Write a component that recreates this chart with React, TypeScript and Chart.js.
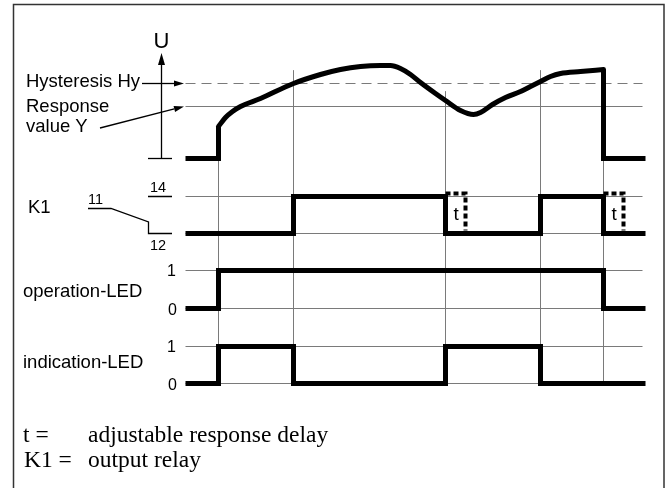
import React, { useEffect, useRef } from "react";
import { Chart, registerables } from "chart.js";

Chart.register(...registerables);

// ---------- DATA (time in arbitrary units, t = 0 at start of diagram) ----------
const T_END = 460;
const LEVEL_LINE_END = 457;
// switching instants: power on, K1 on, K1 off, K1 on, power off
const eventTimes = [33, 108, 260, 355, 418];
// top of each vertical event line, in U units
const eventLineTopU = [32, 88, 67, 88, 89];
// response delay t
const delayTimes = [260, 418];
const delayLength = 20;

// measured voltage U (relative units above 0)
const uStepTimes = [0, 33, 33];
const uStepValues = [0, 0, 32];
const curveTimes = [33, 40, 47, 55, 75, 108, 135, 155, 175, 195, 205, 215, 225, 235, 250, 260, 275, 288, 295, 307, 320, 335, 345, 355, 365, 375, 395, 418];
const curveU = [32, 41, 47, 52, 60, 75, 84, 89, 92, 93, 93, 90, 84, 76, 65, 58, 48, 44, 46, 54, 61, 67, 72, 77, 82, 85, 87, 89];
const uDropTimes = [418, 418, T_END];
const uDropValues = [89, 0, 0];
const responseValueY = 52;
const hysteresisHy = 75;

// digital signals: level held from each time until the next
const k1Times = [0, 108, 260, 355, 418, T_END];
const k1Levels = [0, 1, 0, 1, 0, 0];
const opTimes = [0, 33, 418, T_END];
const opLevels = [0, 1, 0, 0];
const indTimes = [0, 33, 108, 260, 355, T_END];
const indLevels = [0, 1, 0, 1, 0, 0];

// ---------- LAYOUT ----------
const W = 671;
const H = 488;
const X0 = 185; // canvas x of t = 0
const ROWS = {
  U: { base: 158, amp: 1 },
  K1: { base: 233, amp: 37 },
  OP: { base: 308, amp: 38 },
  IND: { base: 383, amp: 37 },
};
type RowKey = keyof typeof ROWS;
const ry = (row: RowKey, v: number) => ROWS[row].base - v * ROWS[row].amp;

const THIN = "#7a7a7a";
const SANS = '"Liberation Sans", Arial, sans-serif';
const SERIF = '"Liberation Serif", "Times New Roman", serif';

function steps(times: number[], levels: number[], row: RowKey) {
  const pts: { x: number; y: number }[] = [{ x: times[0], y: ry(row, levels[0]) }];
  for (let i = 1; i < times.length; i++) {
    pts.push({ x: times[i], y: ry(row, levels[i - 1]) });
    if (levels[i] !== levels[i - 1]) pts.push({ x: times[i], y: ry(row, levels[i]) });
  }
  return pts;
}
const series = (ts: number[], vs: number[], row: RowKey) => ts.map((t, i) => ({ x: t, y: ry(row, vs[i]) }));

function thick(data: any[], extra: any = {}) {
  return {
    data,
    borderColor: "#000",
    borderWidth: 5,
    borderJoinStyle: "miter",
    borderCapStyle: "butt",
    pointRadius: 0,
    tension: 0,
    order: 0,
    ...extra,
  };
}
function thin(data: any[], extra: any = {}) {
  return {
    data,
    borderColor: THIN,
    borderWidth: 1,
    pointRadius: 0,
    tension: 0,
    order: 5,
    ...extra,
  };
}

function arrow(ctx: CanvasRenderingContext2D, x1: number, y1: number, x2: number, y2: number, len = 10, hw = 3) {
  const a = Math.atan2(y2 - y1, x2 - x1);
  const bx = x2 - len * Math.cos(a);
  const by = y2 - len * Math.sin(a);
  ctx.beginPath();
  ctx.moveTo(x1, y1);
  ctx.lineTo(bx, by);
  ctx.stroke();
  ctx.beginPath();
  ctx.moveTo(x2, y2);
  ctx.lineTo(bx + hw * Math.sin(a), by - hw * Math.cos(a));
  ctx.lineTo(bx - hw * Math.sin(a), by + hw * Math.cos(a));
  ctx.closePath();
  ctx.fill();
}

const decorPlugin = {
  id: "decor",
  beforeDraw(chart: any) {
    const ctx = chart.ctx as CanvasRenderingContext2D;
    ctx.save();
    ctx.fillStyle = "#fff";
    ctx.fillRect(0, 0, W, H);
    ctx.restore();
  },
  afterDraw(chart: any) {
    const ctx = chart.ctx as CanvasRenderingContext2D;
    ctx.save();
    // frame
    ctx.strokeStyle = "#333";
    ctx.lineWidth = 1.5;
    ctx.strokeRect(13.5, 4.5, 650.5, 500);

    ctx.strokeStyle = "#000";
    ctx.fillStyle = "#000";
    ctx.lineWidth = 1.3;
    // U axis
    arrow(ctx, 161.5, 158.5, 161.5, 53, 12, 3.5);
    ctx.beginPath();
    ctx.moveTo(148, 158.5);
    ctx.lineTo(172, 158.5);
    ctx.stroke();
    // label arrows
    arrow(ctx, 142, 83.5, 184, 83.5, 10, 3);
    arrow(ctx, 100, 128, 184, 106.5, 10, 3);
    // K1 contact symbol
    ctx.beginPath();
    ctx.moveTo(88, 208.5);
    ctx.lineTo(111, 208.5);
    ctx.lineTo(148.5, 222);
    ctx.lineTo(148.5, 233.5);
    ctx.lineTo(172, 233.5);
    ctx.moveTo(148, 196.5);
    ctx.lineTo(172, 196.5);
    ctx.stroke();

    const txt = (s: string, x: number, y: number, font: string, align: CanvasTextAlign = "left") => {
      ctx.font = font;
      ctx.textAlign = align;
      ctx.textBaseline = "alphabetic";
      ctx.fillText(s, x, y);
    };
    const f185 = `18.5px ${SANS}`;
    txt("U", 161.5, 48, `22px ${SANS}`, "center");
    txt("Hysteresis Hy", 26, 87, f185);
    txt("Response", 26, 112, f185);
    txt("value Y", 26, 131.5, f185);
    txt("K1", 28, 213, f185);
    txt("11", 88, 204, `14.5px ${SANS}`);
    txt("14", 150, 192, `14.5px ${SANS}`);
    txt("12", 150, 250, `14.5px ${SANS}`);
    txt("operation-LED", 23, 296.5, f185);
    txt("indication-LED", 23, 368, f185);
    txt("1", 176, 276, `16px ${SANS}`, "right");
    txt("0", 177, 315, `16px ${SANS}`, "right");
    txt("1", 176, 351.5, `16px ${SANS}`, "right");
    txt("0", 177, 390, `16px ${SANS}`, "right");
    const xs = chart.scales.x;
    delayTimes.forEach((t) => txt("t", xs.getPixelForValue(t) + 8, 220, `19px ${SANS}`));

    const fs = `23.5px ${SERIF}`;
    txt("t =", 23, 441.5, fs);
    txt("adjustable response delay", 88, 441.5, fs);
    txt("K1 =", 24, 466.5, fs);
    txt("output relay", 88, 466.5, fs);
    ctx.restore();
  },
};

export default function App() {
  const ref = useRef<HTMLCanvasElement | null>(null);
  useEffect(() => {
    if (!ref.current) return;
    const datasets: any[] = [
      // thick traces
      thick(series(uStepTimes, uStepValues, "U")),
      thick(series(curveTimes, curveU, "U"), { cubicInterpolationMode: "monotone", borderJoinStyle: "round", borderCapStyle: "round" }),
      thick(series(uDropTimes, uDropValues, "U")),
      thick(steps(k1Times, k1Levels, "K1")),
      thick(steps(opTimes, opLevels, "OP")),
      thick(steps(indTimes, indLevels, "IND")),
      // response delay marks
      ...delayTimes.map((t) =>
        thick(
          [
            { x: t, y: ry("K1", 1.08) },
            { x: t + delayLength, y: ry("K1", 1.08) },
            { x: t + delayLength, y: ry("K1", 0.08) },
          ],
          { borderWidth: 4, borderDash: [5, 3], order: 1 }
        )
      ),
      // thresholds
      thin([{ x: 0, y: ry("U", hysteresisHy) }, { x: LEVEL_LINE_END, y: ry("U", hysteresisHy) }], { borderDash: [10, 6] }),
      thin([{ x: 0, y: ry("U", responseValueY) }, { x: LEVEL_LINE_END, y: ry("U", responseValueY) }]),
      // level lines
      ...(["K1", "OP", "IND"] as RowKey[]).flatMap((r) => [
        thin([{ x: 0, y: ry(r, 0) }, { x: LEVEL_LINE_END, y: ry(r, 0) }]),
        thin([{ x: 0, y: ry(r, 1) }, { x: LEVEL_LINE_END, y: ry(r, 1) }]),
      ]),
      // event lines
      ...eventTimes.map((t, i) => thin([{ x: t, y: ry("U", eventLineTopU[i]) }, { x: t, y: ry("IND", 0) }])),
    ];
    const chart = new Chart(ref.current, {
      type: "line",
      data: { datasets },
      options: {
        animation: false,
        responsive: false,
        devicePixelRatio: 1,
        events: [],
        layout: { padding: 0 },
        plugins: { legend: { display: false }, tooltip: { enabled: false } },
        scales: {
          // half-pixel offset keeps the 1px and 5px strokes crisp
          x: { type: "linear", min: -X0 - 0.5, max: W - X0 - 0.5, display: false },
          y: { type: "linear", min: -0.5, max: H - 0.5, reverse: true, display: false },
        },
      } as any,
      plugins: [decorPlugin],
    });
    return () => chart.destroy();
  }, []);
  return (
    <div style={{ position: "absolute", left: 0, top: 0, width: W, height: H }}>
      <canvas ref={ref} width={W} height={H} style={{ display: "block" }} />
    </div>
  );
}
